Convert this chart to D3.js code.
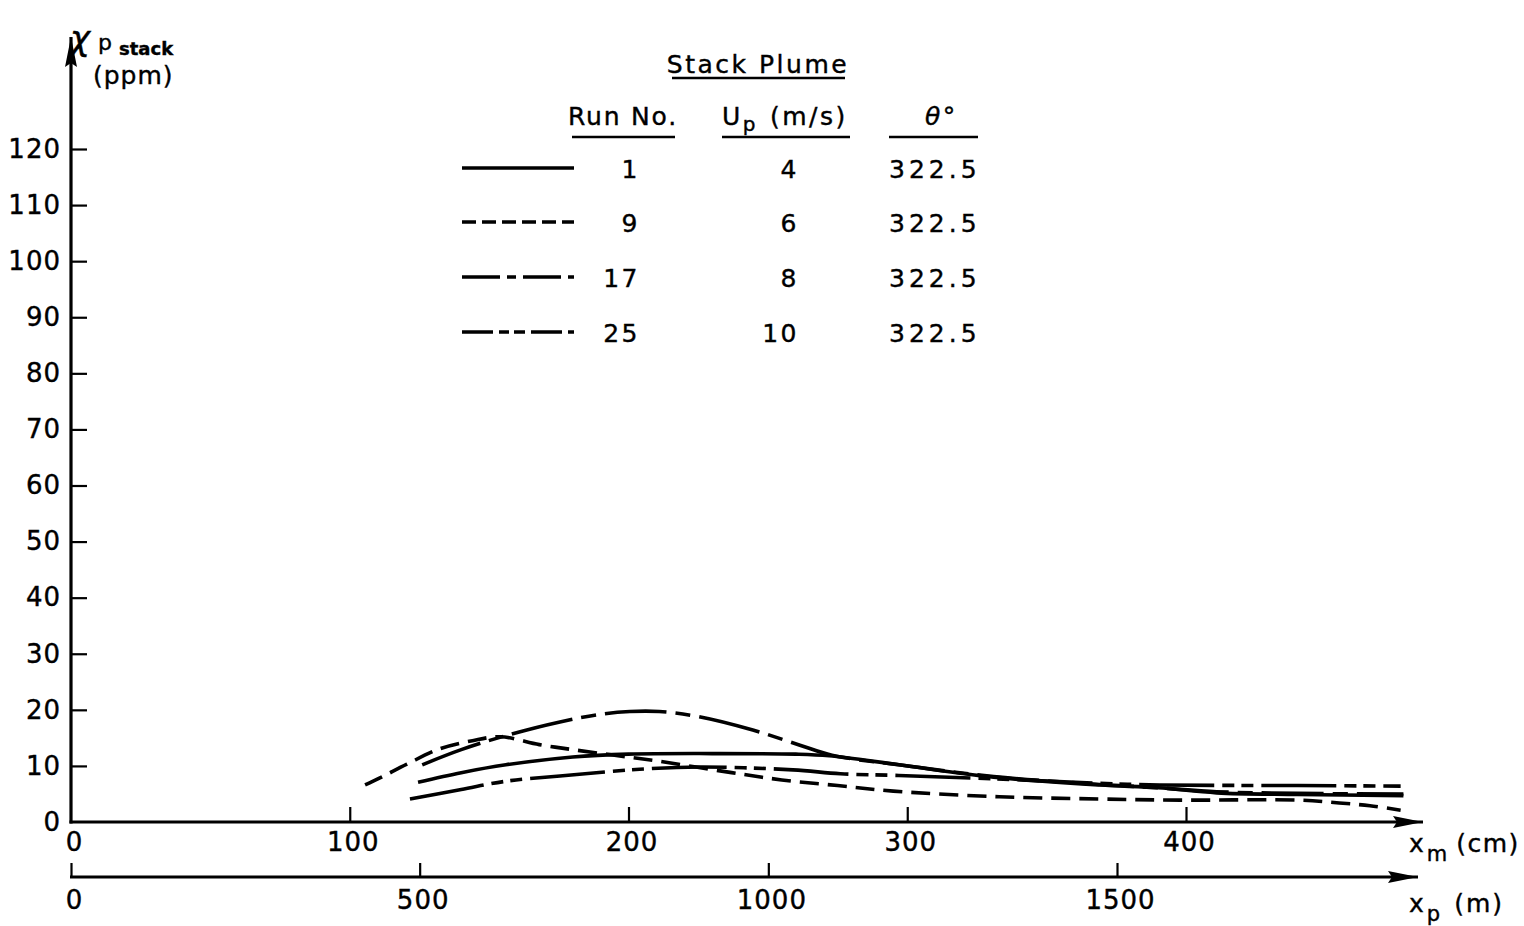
<!DOCTYPE html>
<html>
<head>
<meta charset="utf-8">
<script src="https://cdn.jsdelivr.net/npm/d3@7"></script>
<style>
  html, body { margin: 0; padding: 0; background: #fff; }
  svg { display: block; }
  text { font-family: "DejaVu Sans", sans-serif; fill: #000; stroke: #000; stroke-width: 0.4px; }
</style>
</head>
<body>
<svg id="chart" width="1524" height="926"></svg>
<script>
// ---------------- DATA ----------------
const yTicks = [0, 10, 20, 30, 40, 50, 60, 70, 80, 90, 100, 110, 120];
const xTicksCm = [0, 100, 200, 300, 400];
const xTicksM = [0, 500, 1000, 1500];

const runNos = ["1", "9", "17", "25"];
const speeds = ["4", "6", "8", "10"];
const angles = ["322.5", "322.5", "322.5", "322.5"];

// Run 1 (solid)
const run1X = [124.5, 140, 156, 180, 200, 230, 260, 272, 297, 331, 369, 390, 411, 440, 478];
const run1Y = [7.1, 8.8, 10.2, 11.6, 12.1, 12.2, 12.1, 11.8, 10.2, 8.0, 6.6, 6.1, 5.2, 4.9, 4.7];
// Run 9 (short dashes)
const run9X = [105.5, 111, 120.5, 132, 144, 154, 168, 180, 195, 210, 237, 255, 275, 295, 333, 369, 398, 441, 455, 466, 477];
const run9Y = [6.6, 7.9, 10.3, 13.0, 14.5, 15.2, 13.8, 12.9, 11.9, 10.9, 8.8, 7.5, 6.5, 5.5, 4.5, 4.1, 3.9, 3.9, 3.4, 2.9, 2.1];
// Run 17 (long - short)
const run17X = [126, 140, 156, 175, 190, 200.5, 211, 225, 244.6, 261.5, 273, 297, 331, 369, 390, 411, 440, 478];
const run17Y = [10.2, 12.9, 15.4, 17.8, 19.2, 19.7, 19.7, 18.8, 16.4, 13.7, 11.9, 10.2, 8.1, 6.7, 6.1, 5.4, 5.1, 5.0];
// Run 25 (long - short - short)
const run25X = [121.6, 140, 156.4, 175.4, 204, 225.6, 259, 276, 297, 331, 369, 390.6, 440, 477];
const run25Y = [4.1, 5.8, 7.3, 8.2, 9.4, 9.8, 9.3, 8.6, 8.3, 7.7, 6.9, 6.6, 6.5, 6.4];

// ---------------- SETUP ----------------
const svg = d3.select("#chart");

const x = d3.scaleLinear().domain([0, 400]).range([71, 1186]);
const xp = d3.scaleLinear().domain([0, 1500]).range([71, 1117]);
const y = d3.scaleLinear().domain([0, 120]).range([822, 149]);

const xAxisEnd = 1423;
const xpAxisEnd = 1418;
const yAxisTop = 37;

const ink = "#000";

// arrow marker
const defs = svg.append("defs");
defs.append("marker")
  .attr("id", "arrow")
  .attr("viewBox", "0 0 30 12")
  .attr("refX", 30).attr("refY", 6)
  .attr("markerWidth", 30).attr("markerHeight", 12)
  .attr("markerUnits", "userSpaceOnUse")
  .attr("orient", "auto")
  .append("path")
  .attr("d", "M0,0 L30,6 L0,12 L4,6 Z")
  .attr("fill", ink);

// ---------------- AXES ----------------
const yAxis = d3.axisLeft(y)
  .tickValues(yTicks)
  .tickSizeInner(-16)
  .tickSizeOuter(0)
  .tickPadding(10)
  .tickFormat(d3.format("d"));
const gy = svg.append("g").attr("transform", `translate(${x(0)},0)`).call(yAxis);
gy.select(".domain").remove();
gy.selectAll(".tick line").attr("stroke", ink).attr("stroke-width", 2.2);
gy.selectAll(".tick text")
  .attr("font-size", 26)
  .attr("letter-spacing", 1)
  .attr("font-family", "DejaVu Sans, sans-serif")
  .attr("fill", ink);
gy.selectAll(".tick").filter(d => d === 0).select("line").remove();

svg.append("line")
  .attr("x1", x(0)).attr("x2", x(0))
  .attr("y1", y(0) + 1.5).attr("y2", yAxisTop)
  .attr("stroke", ink).attr("stroke-width", 3.2)
  .attr("marker-end", "url(#arrow)");

const xAxis = d3.axisBottom(x)
  .tickValues(xTicksCm)
  .tickSizeInner(-15)
  .tickSizeOuter(0)
  .tickPadding(11)
  .tickFormat(d3.format("d"));
const gx = svg.append("g").attr("transform", `translate(0,${y(0)})`).call(xAxis);
gx.select(".domain").remove();
gx.selectAll(".tick line").attr("stroke", ink).attr("stroke-width", 2.2);
gx.selectAll(".tick").filter(d => d === 0).select("line").remove();
gx.selectAll(".tick text")
  .attr("font-size", 26)
  .attr("letter-spacing", 1)
  .attr("x", 3)
  .attr("font-family", "DejaVu Sans, sans-serif")
  .attr("fill", ink);

svg.append("line")
  .attr("x1", x(0) - 1.5).attr("x2", xAxisEnd)
  .attr("y1", y(0)).attr("y2", y(0))
  .attr("stroke", ink).attr("stroke-width", 3.2)
  .attr("marker-end", "url(#arrow)");

const xpY = 877;
const xpAxis = d3.axisBottom(xp)
  .tickValues(xTicksM)
  .tickSizeInner(-14)
  .tickSizeOuter(0)
  .tickPadding(14)
  .tickFormat(d3.format("d"));
const gxp = svg.append("g").attr("transform", `translate(0,${xpY})`).call(xpAxis);
gxp.select(".domain").remove();
gxp.selectAll(".tick line").attr("stroke", ink).attr("stroke-width", 2.2);
gxp.selectAll(".tick text")
  .attr("font-size", 26)
  .attr("letter-spacing", 1)
  .attr("x", 3)
  .attr("font-family", "DejaVu Sans, sans-serif")
  .attr("fill", ink);

svg.append("line")
  .attr("x1", xp(0) - 1).attr("x2", xpAxisEnd)
  .attr("y1", xpY).attr("y2", xpY)
  .attr("stroke", ink).attr("stroke-width", 3)
  .attr("marker-end", "url(#arrow)");

// axis titles
const tXm = svg.append("text").attr("x", 1409).attr("y", 852).attr("font-size", 25);
tXm.append("tspan").text("x");
tXm.append("tspan").attr("dy", 9).attr("dx", 3).attr("font-size", 21).text("m");
tXm.append("tspan").attr("dy", -9).attr("dx", 9).attr("letter-spacing", 1.5).text("(cm)");

const tXp = svg.append("text").attr("x", 1409).attr("y", 912).attr("font-size", 25);
tXp.append("tspan").text("x");
tXp.append("tspan").attr("dy", 9).attr("dx", 3).attr("font-size", 21).text("p");
tXp.append("tspan").attr("dy", -9).attr("dx", 14).attr("letter-spacing", 2).text("(m)");

// y title
svg.append("text").attr("x", 70).attr("y", 50).attr("font-size", 34)
  .attr("font-style", "italic").text("χ");
svg.append("text").attr("x", 98).attr("y", 50).attr("font-size", 22).text("p");
svg.append("text").attr("x", 119).attr("y", 55).attr("font-size", 18)
  .attr("font-weight", "bold").text("stack");
svg.append("text").attr("x", 93).attr("y", 84).attr("font-size", 25)
  .attr("letter-spacing", 1).text("(ppm)");

// ---------------- CURVES ----------------
const series = [
  { xs: run1X, ys: run1Y, dash: null, legendDash: null },
  { xs: run9X, ys: run9Y, dash: "19,9", legendDash: "14,6" },
  { xs: run17X, ys: run17Y, dash: "62,9,15,9", legendDash: "38,7,9,7" },
  { xs: run25X, ys: run25Y, dash: "75,8,12,7,12,8", legendDash: "31,6,10,5,11,6" }
];

const lineGen = d3.line()
  .x(d => x(d[0]))
  .y(d => y(d[1]))
  .curve(d3.curveCatmullRom.alpha(0.5));

svg.append("g").selectAll("path")
  .data(series)
  .join("path")
  .attr("d", s => lineGen(s.xs.map((v, i) => [v, s.ys[i]])))
  .attr("fill", "none")
  .attr("stroke", ink)
  .attr("stroke-width", 3.6)
  .attr("stroke-dasharray", s => s.dash);

// ---------------- LEGEND ----------------
const lg = svg.append("g").attr("font-size", 25).attr("letter-spacing", 2.5);

lg.append("text").attr("x", 758).attr("y", 73).attr("text-anchor", "middle").text("Stack Plume");
lg.append("line").attr("x1", 672).attr("x2", 845).attr("y1", 78).attr("y2", 78)
  .attr("stroke", ink).attr("stroke-width", 2.5);

lg.append("text").attr("x", 623).attr("y", 125).attr("text-anchor", "middle")
  .attr("letter-spacing", 1.8).text("Run No.");
lg.append("line").attr("x1", 572).attr("x2", 675).attr("y1", 137).attr("y2", 137)
  .attr("stroke", ink).attr("stroke-width", 2.5);

const up = lg.append("text").attr("x", 722).attr("y", 125);
up.append("tspan").text("U");
up.append("tspan").attr("dy", 6).attr("font-size", 20).text("p");
up.append("tspan").attr("dy", -6).attr("dx", 12).text("(m/s)");
lg.append("line").attr("x1", 722).attr("x2", 850).attr("y1", 137).attr("y2", 137)
  .attr("stroke", ink).attr("stroke-width", 2.5);

const th = lg.append("text").attr("x", 925).attr("y", 125);
th.append("tspan").attr("font-style", "italic").text("θ");
th.append("tspan").text("°");
lg.append("line").attr("x1", 889).attr("x2", 978).attr("y1", 137).attr("y2", 137)
  .attr("stroke", ink).attr("stroke-width", 2.5);

const rowY = [168, 222, 277, 332];
series.forEach((s, i) => {
  lg.append("line")
    .attr("x1", 462).attr("x2", 574)
    .attr("y1", rowY[i]).attr("y2", rowY[i])
    .attr("stroke", ink).attr("stroke-width", 3.4)
    .attr("stroke-dasharray", s.legendDash);
  lg.append("text").attr("x", 640).attr("y", rowY[i] + 10).attr("text-anchor", "end").text(runNos[i]);
  lg.append("text").attr("x", 799).attr("y", rowY[i] + 10).attr("text-anchor", "end").text(speeds[i]);
  lg.append("text").attr("x", 889).attr("y", rowY[i] + 10).attr("text-anchor", "start")
    .attr("letter-spacing", 4).text(angles[i]);
});
</script>
</body>
</html>
